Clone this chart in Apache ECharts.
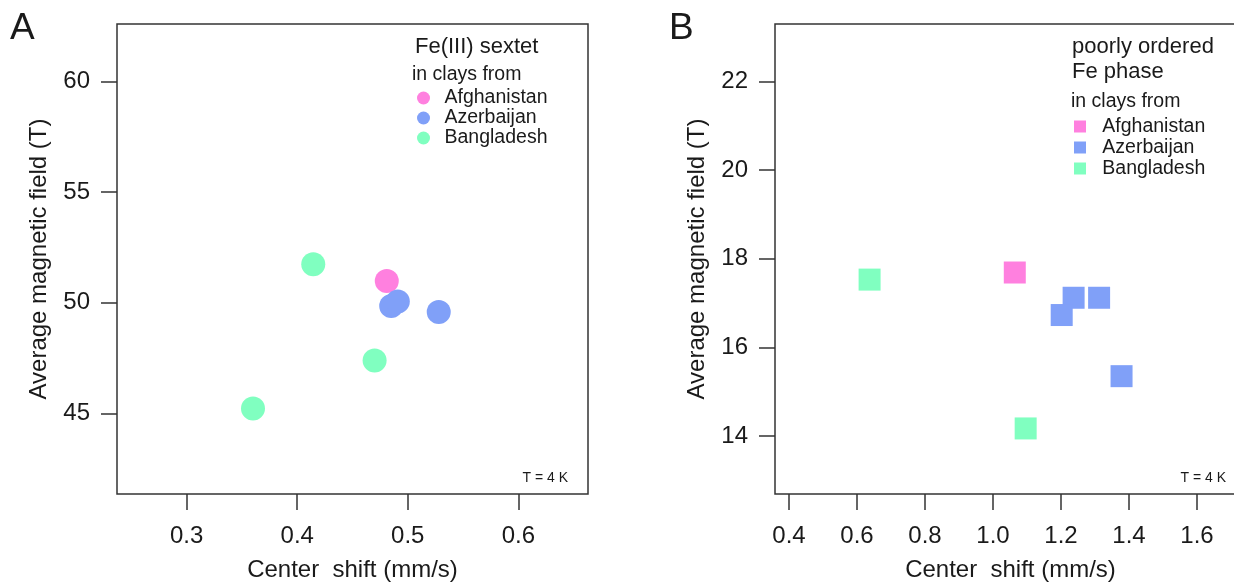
<!DOCTYPE html>
<html lang="en">
<head>
<meta charset="UTF-8">
<title>Moessbauer fits - Fe sextet and poorly ordered Fe phase</title>
<script src="https://cdn.jsdelivr.net/npm/echarts@6/dist/echarts.min.js"></script>
</head>
<body style="margin: 0; background: #fff">
<div id="chart" style="width: 1234px; height: 582px"></div>
<script>
    // panel A: Fe(III) sextet
    let shiftA_afg = [0.481];
    let fieldA_afg = [50.98];
    let shiftA_aze = [0.485, 0.491, 0.528];
    let fieldA_aze = [49.85, 50.05, 49.58];
    let shiftA_ban = [0.4145, 0.470, 0.360];
    let fieldA_ban = [51.74, 47.39, 45.22];

    // panel B: poorly ordered Fe phase
    let shiftB_afg = [1.064];
    let fieldB_afg = [17.69];
    let shiftB_aze = [1.237, 1.312, 1.202, 1.378];
    let fieldB_aze = [17.12, 17.12, 16.73, 15.35];
    let shiftB_ban = [0.637, 1.096];
    let fieldB_ban = [17.53, 14.17];

    let ticksAx = [0.3, 0.4, 0.5, 0.6];
    let ticksAy = [45, 50, 55, 60];
    let ticksBx = [0.4, 0.6, 0.8, 1.0, 1.2, 1.4, 1.6];
    let ticksBy = [14, 16, 18, 20, 22];

    let countries = ['Afghanistan', 'Azerbaijan', 'Bangladesh'];
    let colors = ['#ff80df', '#80a0f8', '#80ffc0'];

    const FONT = '"Liberation Sans", Arial, Helvetica, sans-serif';
    const INK = '#1a1a1a';

    function pairs(xs, ys) {
        let out = [];
        for (let i = 0; i < xs.length; i++) out.push([xs[i], ys[i]]);
        return out;
    }

    function xAxisFor(idx, min, max, ticks, digits) {
        return {
            gridIndex: idx, type: 'value', min: min, max: max,
            name: 'Center  shift (mm/s)', nameLocation: 'middle', nameGap: 64,
            nameTextStyle: {fontFamily: FONT, fontSize: 24, color: INK},
            axisLine: {show: false},
            splitLine: {show: false},
            axisTick: {show: true, length: 16, lineStyle: {color: '#333', width: 1.5}, customValues: ticks},
            axisLabel: {
                margin: 30, fontFamily: FONT, fontSize: 24, color: INK, customValues: ticks,
                formatter: function (v) { return v.toFixed(digits); }
            }
        };
    }

    function yAxisFor(idx, min, max, ticks) {
        return {
            gridIndex: idx, type: 'value', min: min, max: max,
            name: 'Average magnetic field (T)', nameLocation: 'middle', nameGap: 66,
            nameTextStyle: {fontFamily: FONT, fontSize: 24, color: INK},
            axisLine: {show: false},
            splitLine: {show: false},
            axisTick: {show: true, length: 16, lineStyle: {color: '#333', width: 1.5}, customValues: ticks},
            axisLabel: {margin: 27, fontFamily: FONT, fontSize: 24, color: INK, customValues: ticks}
        };
    }

    function scatter(name, data, idx, symbol, size, color) {
        return {
            name: name, type: 'scatter', xAxisIndex: idx, yAxisIndex: idx,
            symbol: symbol, symbolSize: size, data: data,
            itemStyle: {color: color, opacity: 1},
            emphasis: {disabled: true}
        };
    }

    function legendFor(left, top, icon, size, rowH, pad) {
        return {
            orient: 'vertical', left: left, top: top, padding: 0, itemGap: 0,
            icon: icon, itemWidth: size, itemHeight: size,
            data: countries, selectedMode: false,
            textStyle: {fontFamily: FONT, fontSize: 19.5, color: INK, lineHeight: rowH, padding: [0, 0, 0, pad]}
        };
    }

    function label(x, y, text, size) {
        return {
            type: 'text', x: x, y: y,
            style: {text: text, fontFamily: FONT, fontSize: size, fill: INK, textVerticalAlign: 'middle'}
        };
    }

    let dom = document.getElementById('chart');
    let myChart = echarts.init(dom, null, {renderer: 'canvas'});

    let option = {
        animation: false,
        backgroundColor: '#fff',
        grid: [
            {left: 117, top: 24, width: 471, height: 470, outerBoundsMode: 'none', show: true, borderColor: '#333', borderWidth: 1.5},
            {left: 775, top: 24, width: 471, height: 470, outerBoundsMode: 'none', show: true, borderColor: '#333', borderWidth: 1.5}
        ],
        xAxis: [
            xAxisFor(0, 0.237, 0.663, ticksAx, 1),
            xAxisFor(1, 0.3588, 1.744, ticksBx, 1)
        ],
        yAxis: [
            yAxisFor(0, 41.35, 62.6, ticksAy),
            yAxisFor(1, 12.69, 23.3, ticksBy)
        ],
        legend: [
            legendFor(417, 88, 'circle', 13, 20, 9.5),
            legendFor(1074, 116, 'rect', 12, 21, 11.3)
        ],
        series: [
            scatter('Afghanistan', pairs(shiftA_afg, fieldA_afg), 0, 'circle', 24, colors[0]),
            scatter('Azerbaijan', pairs(shiftA_aze, fieldA_aze), 0, 'circle', 24, colors[1]),
            scatter('Bangladesh', pairs(shiftA_ban, fieldA_ban), 0, 'circle', 24, colors[2]),
            scatter('Afghanistan', pairs(shiftB_afg, fieldB_afg), 1, 'rect', 22, colors[0]),
            scatter('Azerbaijan', pairs(shiftB_aze, fieldB_aze), 1, 'rect', 22, colors[1]),
            scatter('Bangladesh', pairs(shiftB_ban, fieldB_ban), 1, 'rect', 22, colors[2])
        ],
        graphic: [
            label(10, 29, 'A', 37),
            label(669, 29, 'B', 37),
            label(415, 47, 'Fe(III) sextet', 22),
            label(412, 75, 'in clays from', 19.5),
            label(1072, 47, 'poorly ordered', 22),
            label(1072, 72, 'Fe phase', 22),
            label(1071, 102, 'in clays from', 19.5),
            {type: 'text', x: 568, y: 478, style: {text: 'T = 4 K', fontFamily: FONT, fontSize: 14, fill: INK, textAlign: 'right', textVerticalAlign: 'middle'}},
            {type: 'text', x: 1226, y: 478, style: {text: 'T = 4 K', fontFamily: FONT, fontSize: 14, fill: INK, textAlign: 'right', textVerticalAlign: 'middle'}}
        ]
    };
    myChart.setOption(option, true);
</script>
</body>
</html>
